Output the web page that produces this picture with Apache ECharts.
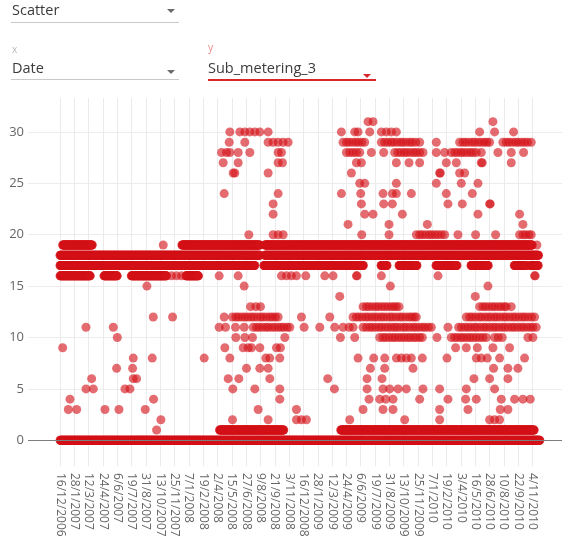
<!DOCTYPE html>
<html>
<head>
<meta charset="utf-8">
<title>Sub_metering_3 by date</title>
<script src="https://cdn.jsdelivr.net/npm/echarts@6/dist/echarts.min.js"></script>
<style>
  html, body { margin: 0; padding: 0; background: #fff; }
  #wrap { position: relative; width: 562px; height: 547px; overflow: hidden; font-family: 'Open Sans', sans-serif; }
  #chart { position: absolute; left: 0; top: 0; width: 562px; height: 547px; }
  .ctl { position: absolute; white-space: nowrap; line-height: normal; }
  .val { font-size: 14.5px; color: #3b3b3b; }
  .cap { font-size: 10px; }
  .caret { position: absolute; width: 0; height: 0; border-left: 4px solid transparent; border-right: 4px solid transparent; border-top: 4px solid #6a6a6a; }
  .rule { position: absolute; height: 1px; background: #c9c9c9; }
</style>
</head>
<body>
<div id="wrap">
  <div id="chart"></div>

  <!-- chart type picker -->
  <div class="ctl val" style="left:12px; top:0px;">Scatter</div>
  <div class="caret" style="left:167px; top:9px;"></div>
  <div class="rule" style="left:11px; top:22px; width:168px;"></div>

  <!-- x column picker -->
  <div class="ctl cap" style="left:12px; top:42px; color:#b8b8b8;">x</div>
  <div class="ctl val" style="left:12px; top:58px;">Date</div>
  <div class="caret" style="left:167px; top:70px;"></div>
  <div class="rule" style="left:11px; top:79px; width:168px;"></div>

  <!-- y column picker (active) -->
  <div class="ctl cap" style="left:208px; top:40px; color:#ee8a8c; font-size:10.5px;">y</div>
  <div class="ctl val" style="left:208px; top:58px;">Sub_metering_3</div>
  <div class="caret" style="left:363px; top:74px; border-top-color:#d9262c;"></div>
  <div class="rule" style="left:208px; top:79px; width:168px; height:2px; background:#d9262c;"></div>
</div>

<script>
// Day numbers count from the first reading, 16/12/2006.
const firstDay = Date.UTC(2006, 11, 16);

// Date labels along the x axis (d/m/yyyy).
const tickLabels = [
  '16/12/2006', '28/1/2007', '12/3/2007', '24/4/2007', '6/6/2007', '19/7/2007',
  '31/8/2007', '13/10/2007', '25/11/2007', '7/1/2008', '19/2/2008', '2/4/2008',
  '15/5/2008', '27/6/2008', '9/8/2008', '21/9/2008', '3/11/2008', '16/12/2008',
  '28/1/2009', '12/3/2009', '24/4/2009', '6/6/2009', '19/7/2009', '31/8/2009',
  '13/10/2009', '25/11/2009', '7/1/2010', '19/2/2010', '3/4/2010', '16/5/2010',
  '28/6/2010', '10/8/2010', '22/9/2010', '4/11/2010'
];

// Value ticks on the y axis.
const yTicks = [0, 5, 10, 15, 20, 25, 30];

// Stretches where a reading repeats every day: [value, fromDay, toDay].
const steadyRuns = [
  [0, 0, 1441],
  [1, 479, 672], [1, 843, 1424],
  [16, 0, 91], [16, 132, 172], [16, 214, 320], [16, 378, 416],
  [17, 0, 585], [17, 612, 911], [17, 964, 982], [17, 1018, 1072], [17, 1129, 1192],
  [17, 1234, 1286], [17, 1364, 1400], [17, 1412, 1436],
  [18, 0, 600], [18, 615, 1437],
  [19, 8, 97], [19, 366, 600], [19, 615, 1418]
];

// Crowded rows of readings: [value, days].
const clusterReadings = [
  [10, [960, 970, 978, 988, 998, 1006, 1016, 1025, 1034, 1044, 1052, 1062, 1070, 1080, 1088,
        1175, 1185, 1194, 1204, 1212, 1222, 1231, 1240, 1250, 1260, 1270, 1280,
        1305, 1316, 1328]],
  [11, [580, 590, 598, 608, 618, 626, 636, 645, 655, 664, 672, 682, 690,
        910, 920, 930, 938, 948, 958, 966, 976, 985, 995, 1004, 1012, 1022, 1032, 1040, 1050,
        1060, 1068, 1078, 1088, 1096, 1106, 1115,
        1197, 1206, 1216, 1225, 1234, 1244, 1252, 1262, 1272, 1280, 1290, 1300, 1308, 1318,
        1328, 1336, 1346, 1356, 1364, 1374, 1384, 1392, 1402, 1412, 1420, 1430]],
  [12, [518, 528, 536, 546, 555, 564, 574, 582, 592, 602, 610, 620, 630, 638, 647, 655,
        880, 890, 898, 908, 918, 926, 936, 945, 954, 964, 972, 982, 992, 1000, 1010, 1020,
        1028, 1038, 1048, 1056, 1064, 1070,
        1220, 1230, 1238, 1248, 1258, 1266, 1276, 1285, 1294, 1304, 1312, 1322, 1332, 1340,
        1350, 1360, 1368, 1378, 1388, 1396, 1406, 1416, 1425]],
  [13, [910, 920, 928, 938, 948, 956, 966, 975, 984, 994, 1002, 1010, 1018,
        1260, 1270, 1278, 1288, 1298, 1306, 1316, 1325, 1334, 1340]],
  [20, [1070, 1080, 1088, 1098, 1108, 1116, 1126, 1135, 1145, 1155,
        1380, 1390, 1398, 1408, 1415]],
  [28, [860, 870, 880, 890, 900,
        1005, 1015, 1024, 1034, 1042, 1052, 1062, 1070, 1080, 1090,
        1175, 1185, 1194, 1204, 1212, 1222, 1232, 1240, 1250]],
  [29, [850, 860, 868, 878, 888, 896, 906, 915,
        965, 975, 984, 994, 1002, 1012, 1022, 1030, 1040, 1050, 1058, 1068, 1080,
        1200, 1210, 1218, 1228, 1238, 1246, 1256, 1265, 1274, 1282, 1290,
        1330, 1340, 1348, 1358, 1368, 1376, 1386, 1395, 1404, 1415]]
];

// Single readings above the main band: [value, days].
const upperReadings = [
  [31, [925, 940, 1300]],
  [30, [510, 540, 555, 570, 585, 600, 625, 845, 885, 895, 930, 965, 980, 995, 1010, 1260, 1305, 1362]],
  [29, [508, 555, 625, 640, 655, 670, 685, 1130]],
  [28, [485, 500, 510, 535, 570, 655, 665, 935, 972, 1130, 1155, 1265, 1315, 1355, 1392]],
  [27, [490, 535, 655, 668, 890, 905, 1010, 1048, 1080, 1160, 1190, 1265, 1268, 1355]],
  [26, [520, 525, 625, 875, 1140, 1142, 1200, 1215]],
  [25, [900, 915, 1010, 1130, 1205, 1255]],
  [24, [493, 655, 845, 903, 970, 998, 1010, 1055, 1160, 1238]],
  [23, [640, 905, 972, 998, 1165, 1208, 1290, 1292]],
  [22, [640, 915, 940, 1028, 1255, 1380]],
  [21, [865, 988, 1103, 1390]],
  [20, [567, 640, 655, 670, 906, 988, 1195, 1248, 1308]],
  [19, [310, 1432]]
];

// Single readings below the main band: [value, days].
const lowerReadings = [
  [16, [335, 350, 365, 478, 535, 665, 680, 695, 710, 738, 795, 820, 890, 892, 965, 1135, 1425, 1427]],
  [15, [261, 553, 992, 1285]],
  [14, [840, 1247]],
  [13, [572, 588, 602, 1355]],
  [12, [280, 338, 493, 725, 810]],
  [11, [78, 160, 478, 497, 527, 553, 733, 780, 825, 850, 868, 880, 1165]],
  [10, [172, 528, 555, 578, 675, 842, 885, 1132, 1405, 1420]],
  [9, [8, 495, 550, 565, 575, 600, 650, 662, 1188, 1220, 1253, 1300, 1350]],
  [8, [220, 277, 433, 510, 618, 630, 660, 895, 942, 975, 1010, 1025, 1040, 1055, 1088, 1162, 1250, 1265, 1283, 1320, 1395]],
  [7, [170, 218, 560, 600, 625, 932, 975, 1060, 1302, 1345, 1375]],
  [6, [95, 220, 230, 505, 537, 630, 804, 922, 967, 1243, 1290, 1345]],
  [5, [78, 100, 195, 210, 519, 585, 660, 824, 922, 970, 990, 1015, 1040, 1090, 1140, 1220, 1305]],
  [4, [30, 281, 660, 928, 960, 978, 1000, 1080, 1165, 1218, 1250, 1325, 1365, 1390, 1412]],
  [3, [25, 50, 135, 177, 256, 595, 710, 910, 970, 1000, 1140, 1225, 1322, 1345]],
  [2, [303, 518, 625, 710, 725, 740, 870, 1035, 1140, 1290, 1305, 1320]],
  [1, [290]]
];

function dayOf(label) {
  const [d, m, y] = label.split('/').map(Number);
  return Math.round((Date.UTC(y, m - 1, d) - firstDay) / 86400000);
}

const tickDays = tickLabels.map(dayOf);
const labelByDay = {};
tickDays.forEach((d, i) => { labelByDay[d] = tickLabels[i]; });

const points = [];
steadyRuns.forEach(([v, from, to]) => {
  for (let d = from; d <= to; d++) points.push([d, v]);
});
clusterReadings.concat(upperReadings, lowerReadings).forEach(([v, days]) => {
  days.forEach(d => points.push([d, v]));
});

// Horizontal scale: about 0.333 px per day, plot spans from left gutter to the right edge.
const pxPerDay = 14.32 / 43;
const gridLeft = 28;
const xMin = -(60 - gridLeft) / pxPerDay;
const xMax = xMin + (562 - gridLeft) / pxPerDay;

const chart = echarts.init(document.getElementById('chart'), null, { renderer: 'canvas' });
chart.setOption({
  animation: false,
  backgroundColor: 'transparent',
  grid: { left: gridLeft, right: 0, top: 98, bottom: 81, containLabel: false },
  xAxis: {
    type: 'value',
    min: xMin,
    max: xMax,
    axisLine: { show: false },
    axisTick: { show: false, customValues: tickDays },
    axisLabel: {
      customValues: tickDays,
      rotate: -90,
      margin: 7,
      color: '#666',
      fontSize: 12,
      fontFamily: 'Open Sans',
      formatter: v => labelByDay[Math.round(v)] || ''
    },
    splitLine: { show: true, lineStyle: { color: '#ebebeb', width: 1 } }
  },
  yAxis: {
    type: 'value',
    min: -2.5,
    max: 33.3,
    axisLine: { show: false },
    axisTick: { show: false, customValues: yTicks },
    axisLabel: {
      customValues: yTicks,
      margin: 4,
      color: '#666',
      fontSize: 13,
      fontFamily: 'Open Sans'
    },
    splitLine: { show: true, lineStyle: { color: '#ececec', width: 1 } }
  },
  series: [
    {
      type: 'line',
      data: [],
      z: 1,
      silent: true,
      markLine: {
        silent: true,
        symbol: 'none',
        label: { show: false },
        lineStyle: { color: '#7d7d7d', width: 1, type: 'solid' },
        data: [{ yAxis: 0 }]
      }
    },
    {
      type: 'scatter',
      z: 3,
      data: points,
      symbol: 'circle',
      symbolSize: 9,
      progressive: 0,
      large: false,
      itemStyle: { color: 'rgb(212,17,24)', opacity: 0.62 },
      emphasis: { disabled: true }
    }
  ]
});
</script>
</body>
</html>
